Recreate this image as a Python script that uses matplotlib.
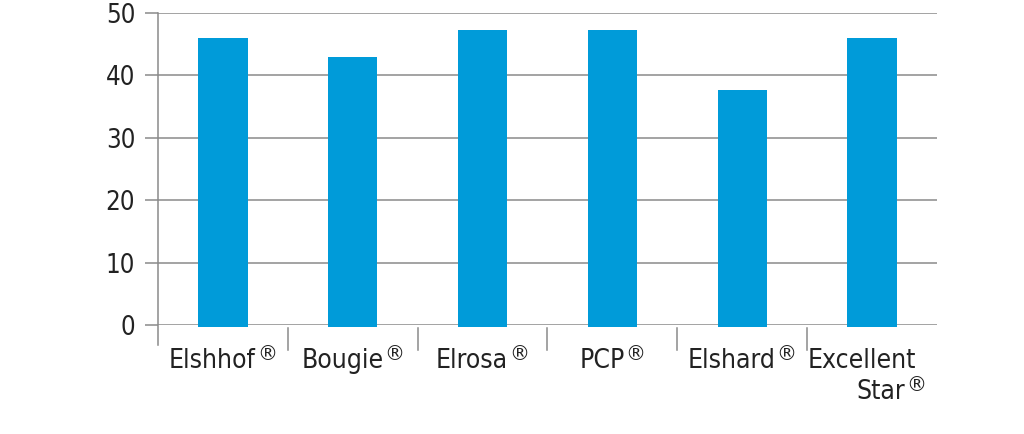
import numpy as np
import matplotlib.pyplot as plt
from matplotlib.lines import Line2D

# datos
cats = ['Elshhof', 'Bougie', 'Elrosa', 'PCP', 'Elshard', 'Excellent\nStar']
vals = [46.0, 42.9, 47.3, 47.3, 37.7, 46.0]
yticks = [0, 10, 20, 30, 40, 50]

azul = '#009bd9'
gris = '#8a8a8a'
texto = '#222222'

plt.rcParams['font.family'] = ['DejaVu Sans']
plt.rcParams['font.stretch'] = 'condensed'

fig = plt.figure(figsize=(10.24, 4.34), dpi=100)
ax = fig.add_axes([158/1024, 109/434, (937-158)/1024, (325-13)/434])

x = np.arange(len(cats))
ax.bar(x, np.array(vals) + 0.35, bottom=-0.35, width=0.38, color=azul,
       zorder=3, clip_on=False)

ax.set_xlim(-0.5, len(cats) - 0.5)
ax.set_ylim(0, 50)
ax.set_yticks(yticks)
ax.set_yticklabels([str(t) for t in yticks], fontsize=18.5, color=texto,
                   fontstretch='condensed')
ax.tick_params(axis='y', length=9.5, width=1.1, color=gris, pad=7)
ax.yaxis.grid(True, color=gris, linewidth=1.1, zorder=0)
ax.set_xticks([])
for s in ['top', 'right', 'bottom', 'left']:
    ax.spines[s].set_visible(False)

# eje izquierdo, baja por debajo del cero
ax.add_line(Line2D([-0.5, -0.5], [-3.2, 50], color=gris, linewidth=1.1,
                   clip_on=False, zorder=2))
# separadores entre categorias
for b in x[:-1] + 0.5:
    ax.add_line(Line2D([b, b], [-0.5, -4.0], color=gris, linewidth=1.1,
                       clip_on=False))

# etiquetas: nombre + ® elevado, centrado en conjunto
r = fig.canvas.get_renderer()
px_unit = ax.transData.transform((0, 1))[1] - ax.transData.transform((0, 0))[1]
base0 = -6.9
gap = 31 / px_unit
fs = 19

def ancho(s, size):
    t = fig.text(0, 0, s, fontsize=size, fontstretch='condensed')
    w = t.get_window_extent(r).width
    t.remove()
    return w

wr = ancho('®', 16)
for i, c in enumerate(cats):
    lineas = c.split('\n')
    cx = ax.transData.transform((i, 0))[0]
    ws = [ancho(l, fs) for l in lineas]
    wtot = max(ws[:-1] + [ws[-1] + wr + 1])
    derecha = cx + wtot / 2
    for k, l in enumerate(lineas):
        y = base0 - k * gap
        if k < len(lineas) - 1:
            xt = cx - wtot / 2 + (wtot - ws[k]) / 2 - wr / 2
            ax.text(ax.transData.inverted().transform((xt, 0))[0], y, l,
                    ha='left', va='baseline', fontsize=fs, color=texto,
                    fontstretch='condensed')
        else:
            xe = derecha - wr - 1
            ax.text(ax.transData.inverted().transform((xe, 0))[0], y, l,
                    ha='right', va='baseline', fontsize=fs, color=texto,
                    fontstretch='condensed')
            ax.text(ax.transData.inverted().transform((xe + 1, 0))[0],
                    y + 8 / px_unit, '®', ha='left', va='baseline',
                    fontsize=16, color=texto, fontstretch='condensed')

fig.savefig('out.png', dpi=100)
